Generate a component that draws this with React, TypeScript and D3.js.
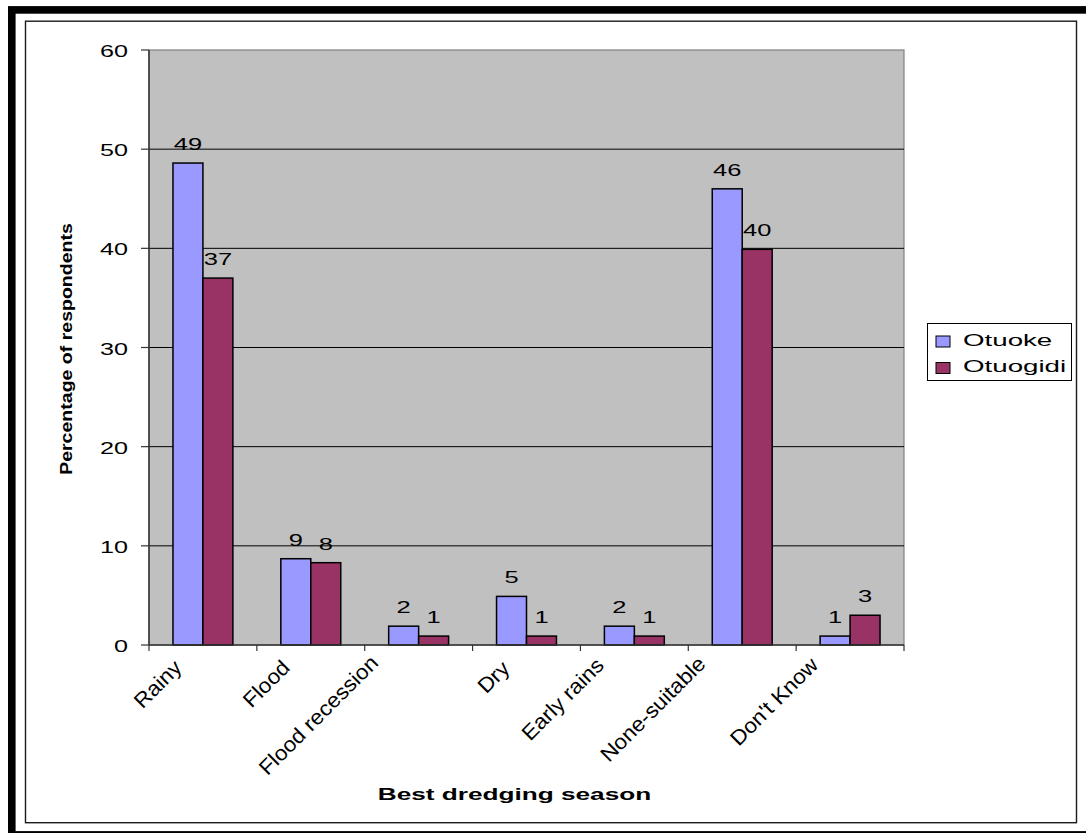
import React from "react";
import * as d3 from "d3";

// Survey results: best dredging season, by community
const categories = [
  "Rainy",
  "Flood",
  "Flood recession",
  "Dry",
  "Early rains",
  "None-suitable",
  "Don't Know",
];
const seriesNames = ["Otuoke", "Otuogidi"];
const otuoke = [48.6, 8.7, 1.9, 4.9, 1.9, 46.0, 0.9];
const otuogidi = [37.0, 8.3, 0.9, 0.9, 0.9, 39.9, 3.0];
const seriesColors = ["#9999FF", "#993366"];
const yTicks = [0, 10, 20, 30, 40, 50, 60];

const xTitle = "Best dredging season";
const yTitle = "Percentage of respondents";

const W = 1086;
const H = 833;
const FONT = "'Liberation Sans', Arial, Helvetica, sans-serif";

const plot = { left: 149, right: 904, top: 50, bottom: 645 };

// Category label styling
const CAT_SIZE = 21;
const CAT_SX = 1.07;

let measureCtx: CanvasRenderingContext2D | null = null;
function textWidth(s: string, size: number, weight = "normal") {
  if (typeof document !== "undefined") {
    if (!measureCtx) measureCtx = document.createElement("canvas").getContext("2d");
    if (measureCtx) {
      measureCtx.font = `${weight} ${size}px 'Liberation Sans', Arial, sans-serif`;
      return measureCtx.measureText(s).width;
    }
  }
  return s.length * size * 0.5;
}

type STextProps = {
  x: number;
  y: number;
  rot?: number;
  sx?: number;
  anchor?: "start" | "middle" | "end";
  weight?: string | number;
  size?: number;
  children: React.ReactNode;
};

// Text with a horizontal stretch applied in its own (rotated) frame
function SText({ x, y, rot = 0, sx = 1, anchor = "start", weight = "normal", size = 17, children }: STextProps) {
  return (
    <text
      transform={`translate(${x},${y}) rotate(${rot}) scale(${sx},1)`}
      textAnchor={anchor}
      fontFamily={FONT}
      fontSize={size}
      fontWeight={weight}
      fill="#000"
    >
      {children}
    </text>
  );
}

export default function App() {
  const x0 = d3
    .scaleBand<string>()
    .domain(categories)
    .range([plot.left, plot.right])
    .paddingInner(0)
    .paddingOuter(0);
  const x1 = d3
    .scaleBand<string>()
    .domain(seriesNames)
    .range([0, x0.bandwidth()])
    .paddingInner(0)
    .paddingOuter(0.8);
  const y = d3.scaleLinear().domain([0, 60]).range([plot.bottom, plot.top]);
  const fmt = d3.format(".0f");

  const series = [otuoke, otuogidi];
  const boundaries = categories.map((c) => x0(c) as number).concat([plot.right]);

  return (
    <div style={{ position: "absolute", left: 0, top: 0, width: W, height: H, background: "#fff" }}>
      <svg width={W} height={H} viewBox={`0 0 ${W} ${H}`} style={{ display: "block" }}>
        <rect x={0} y={0} width={W} height={H} fill="#fff" />
        {/* heavy outer frame */}
        <rect x={11.8} y={9.9} width={W + 20} height={825} fill="none" stroke="#000" strokeWidth={7.6} />
        {/* chart area border */}
        <rect x={25.5} y={21.2} width={1051} height={801.5} fill="#fff" stroke="#1a1a1a" strokeWidth={1.4} />

        {/* plot area */}
        <rect
          x={plot.left}
          y={plot.top}
          width={plot.right - plot.left}
          height={plot.bottom - plot.top}
          fill="#C0C0C0"
          stroke="#808080"
          strokeWidth={1.2}
        />

        {/* gridlines */}
        {yTicks
          .filter((t) => t > 0 && t < 60)
          .map((t) => (
            <line key={`g${t}`} x1={plot.left} x2={plot.right} y1={y(t)} y2={y(t)} stroke="#000" strokeWidth={1} />
          ))}

        {/* bars */}
        {series.map((vals, si) =>
          vals.map((v, ci) => {
            const c = categories[ci];
            const bx = (x0(c) as number) + (x1(seriesNames[si]) as number);
            return (
              <rect
                key={`b${si}-${ci}`}
                x={bx}
                y={y(v)}
                width={x1.bandwidth()}
                height={y(0) - y(v)}
                fill={seriesColors[si]}
                stroke="#000"
                strokeWidth={1.5}
              />
            );
          })
        )}

        {/* value labels */}
        {series.map((vals, si) =>
          vals.map((v, ci) => {
            const c = categories[ci];
            const cx = (x0(c) as number) + (x1(seriesNames[si]) as number) + x1.bandwidth() / 2;
            return (
              <SText key={`l${si}-${ci}`} x={cx} y={y(v) - 13} anchor="middle" sx={1.5}>
                {fmt(v)}
              </SText>
            );
          })
        )}

        {/* y axis */}
        <line x1={plot.left} x2={plot.left} y1={plot.top} y2={plot.bottom} stroke="#333" strokeWidth={1.5} />
        {yTicks.map((t) => (
          <g key={`yt${t}`}>
            <line x1={plot.left - 8} x2={plot.left} y1={y(t)} y2={y(t)} stroke="#333" strokeWidth={1.2} />
            <SText x={128} y={y(t) + 7} anchor="end" sx={1.48}>
              {t}
            </SText>
          </g>
        ))}

        {/* x axis */}
        <line x1={plot.left} x2={plot.right} y1={plot.bottom} y2={plot.bottom} stroke="#333" strokeWidth={1.5} />
        {boundaries.map((bx, i) => (
          <line key={`xt${i}`} x1={bx} x2={bx} y1={plot.bottom} y2={plot.bottom + 6} stroke="#333" strokeWidth={1.2} />
        ))}
        {categories.map((c) => {
          const cx = (x0(c) as number) + x0.bandwidth() / 2;
          const len = textWidth(c, CAT_SIZE) * CAT_SX;
          return (
            <SText
              key={`xl${c}`}
              x={cx - 9 - 0.19 * len}
              y={plot.bottom + 26.5 - 0.046 * len}
              rot={-45}
              anchor="end"
              size={CAT_SIZE}
              sx={CAT_SX}
            >
              {c}
            </SText>
          );
        })}

        {/* axis titles */}
        <SText x={514.5} y={800} anchor="middle" weight="bold" sx={1.54}>
          {xTitle}
        </SText>
        <SText x={72} y={349} rot={-90} anchor="middle" weight="bold" sx={1.15}>
          {yTitle}
        </SText>

        {/* legend */}
        <rect x={927.5} y={323.5} width={144} height={57} fill="#fff" stroke="#000" strokeWidth={1} />
        {seriesNames.map((s, i) => (
          <g key={`lg${s}`}>
            <rect x={936} y={336 + i * 26.5} width={14} height={11} fill={seriesColors[i]} stroke="#000" strokeWidth={1} />
            <SText x={963} y={345.5 + i * 26.5} sx={1.63}>
              {s}
            </SText>
          </g>
        ))}
      </svg>
    </div>
  );
}
